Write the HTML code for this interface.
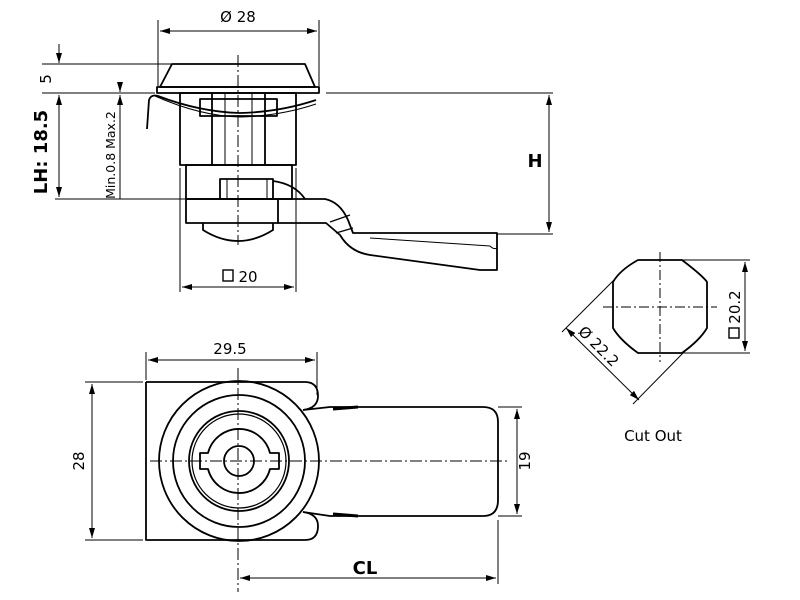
<!DOCTYPE html>
<html><head><meta charset="utf-8"><style>
html,body{margin:0;padding:0;background:#fff}
svg{display:block}
text{font-family:"DejaVu Sans","Liberation Sans",sans-serif;fill:#000}
</style></head><body>
<svg width="800" height="600" viewBox="0 0 800 600" xmlns="http://www.w3.org/2000/svg">
<defs>
<marker id="a" viewBox="0 0 10 6" refX="10" refY="3" markerWidth="10" markerHeight="6" orient="auto-start-reverse" markerUnits="userSpaceOnUse"><path d="M0,0L10,3L0,6z" fill="#000"/></marker>
</defs>
<g fill="none" stroke="#000" stroke-width="1">
<line x1="158" y1="20" x2="158" y2="86"/><line x1="319" y1="20" x2="319" y2="86"/>
<line x1="160" y1="31" x2="317" y2="31" marker-start="url(#a)" marker-end="url(#a)"/>
<line x1="42" y1="64" x2="172" y2="64"/>
<line x1="42" y1="93" x2="155" y2="93"/><line x1="326" y1="93" x2="553" y2="93"/>
<line x1="55" y1="199" x2="185" y2="199"/>
<line x1="497" y1="234" x2="553" y2="234"/>
<line x1="549" y1="95" x2="549" y2="232" marker-start="url(#a)" marker-end="url(#a)"/>
<line x1="59" y1="44" x2="59" y2="63" marker-end="url(#a)"/>
<line x1="59" y1="95" x2="59" y2="197" marker-start="url(#a)" marker-end="url(#a)"/>
<line x1="120" y1="82" x2="120" y2="92" marker-end="url(#a)"/>
<line x1="120" y1="95" x2="120" y2="199" marker-start="url(#a)"/>
<line x1="180" y1="168" x2="180" y2="292"/><line x1="296" y1="168" x2="296" y2="292"/>
<line x1="182" y1="287" x2="294" y2="287" marker-start="url(#a)" marker-end="url(#a)"/>
<line x1="238" y1="55" x2="238" y2="245" stroke-dasharray="12,3,2,3"/>
</g>
<g fill="none" stroke="#000" stroke-width="1.8" stroke-linejoin="round">
<path d="M172,64L305,64L315,87L160,87Z"/>
<rect x="157" y="87" width="162" height="6"/>
<rect x="180" y="93" width="116" height="72"/>
<line x1="212" y1="93" x2="212" y2="165"/><line x1="265" y1="93" x2="265" y2="165"/>
<line x1="225" y1="93" x2="225" y2="165" stroke-width="1"/><line x1="252" y1="93" x2="252" y2="165" stroke-width="1"/>
<rect x="200" y="99" width="77" height="17"/>
<path d="M147,129L149,100Q151,94 158,96Q200,112 240,113Q280,112 316,100"/>
<path d="M155,96Q200,116 240,117Q280,116 316,104" stroke-width="1"/>
<rect x="186" y="165" width="106" height="34"/>
<rect x="220" y="179" width="53" height="20"/>
<line x1="227" y1="179" x2="227" y2="199" stroke-width="1"/><line x1="267" y1="179" x2="267" y2="199" stroke-width="1"/>
<path d="M273,181Q295,184 305,199"/>
<rect x="186" y="199" width="92" height="24"/>
<path d="M278,199L325,199Q340,202 348,220L353,233L497,233L497,270L480,270L370,255Q350,252 340,235L326,223L278,223"/>
<line x1="330" y1="222" x2="350" y2="215" stroke-width="1.2"/><line x1="336" y1="233" x2="353" y2="228" stroke-width="1.2"/>
<path d="M370,238L490,246Q494,250 497,248" stroke-width="1"/>
<path d="M203,223L203,230Q238,252 273,230L273,223"/>
<path d="M146,382L305,382Q318,382 318,396Q318,408 303,410"/>
<path d="M146,382L146,540L305,540Q318,540 318,526Q318,514 303,512"/>
<path d="M303,410L330,407L483,407Q498,407 498,422L498,500Q498,516 483,516L330,516L303,512"/>
<path d="M333,409L358,407" stroke-width="3"/><path d="M333,514L358,516" stroke-width="3"/>
<circle cx="239" cy="461" r="80"/>
<circle cx="239" cy="461" r="66"/>
<circle cx="239" cy="461" r="50"/>
<circle cx="239" cy="461" r="47" stroke-width="1.2"/>
<path d="M200,453L208,453A32,32 0 0 1 270,453L279,453L279,469L270,469A32,32 0 0 1 208,469L200,469Z"/>
<circle cx="239" cy="461" r="15"/>
<path d="M638,260L682,260Q703,276 707,282L707,328Q700,340 682,353L638,353Q620,340 613,328L613,282Q620,270 638,260Z"/>
</g>
<g fill="none" stroke="#000" stroke-width="1">
<line x1="238" y1="368" x2="238" y2="592" stroke-dasharray="12,3,2,3"/>
<line x1="150" y1="461" x2="510" y2="461" stroke-dasharray="12,3,2,3"/>
<line x1="146" y1="352" x2="146" y2="380"/><line x1="317" y1="352" x2="317" y2="395"/>
<line x1="148" y1="360" x2="315" y2="360" marker-start="url(#a)" marker-end="url(#a)"/>
<line x1="85" y1="382" x2="143" y2="382"/><line x1="85" y1="540" x2="143" y2="540"/>
<line x1="92" y1="384" x2="92" y2="538" marker-start="url(#a)" marker-end="url(#a)"/>
<line x1="498" y1="407" x2="522" y2="407"/><line x1="498" y1="516" x2="522" y2="516"/>
<line x1="517" y1="409" x2="517" y2="514" marker-start="url(#a)" marker-end="url(#a)"/>
<line x1="498" y1="520" x2="498" y2="584"/>
<line x1="240" y1="578" x2="496" y2="578" marker-start="url(#a)" marker-end="url(#a)"/>
<line x1="660" y1="252" x2="660" y2="362" stroke-dasharray="10,3,2,3"/>
<line x1="603" y1="307" x2="717" y2="307" stroke-dasharray="10,3,2,3"/>
<line x1="682" y1="260" x2="750" y2="260"/><line x1="682" y1="353" x2="750" y2="353"/>
<line x1="745" y1="262" x2="745" y2="351" marker-start="url(#a)" marker-end="url(#a)"/>
<line x1="614" y1="280" x2="562" y2="332"/><line x1="686" y1="350" x2="633" y2="404"/>
<line x1="566" y1="328" x2="639" y2="400" marker-start="url(#a)" marker-end="url(#a)"/>
</g>
<g font-size="15">
<text x="238" y="22" text-anchor="middle">Ø 28</text>
<text x="248" y="282" text-anchor="middle">20</text>
<text x="230" y="354" text-anchor="middle">29.5</text>
<text x="653" y="441" text-anchor="middle">Cut Out</text>
<text transform="translate(84,461) rotate(-90)" text-anchor="middle">28</text>
<text transform="translate(530,461) rotate(-90)" text-anchor="middle">19</text>
<text transform="translate(51,79) rotate(-90)" text-anchor="middle">5</text>
<text transform="translate(740,307) rotate(-90)" text-anchor="middle">20.2</text>
<text transform="translate(595,350) rotate(45)" text-anchor="middle">Ø 22.2</text>
<text transform="translate(115,155) rotate(-90)" text-anchor="middle" font-size="12.5">Min.0.8 Max.2</text>
<text transform="translate(47,152) rotate(-90)" text-anchor="middle" font-size="18" font-weight="bold">LH: 18.5</text>
<text x="535" y="167" text-anchor="middle" font-size="18" font-weight="bold">H</text>
<text x="365" y="574" text-anchor="middle" font-size="18" font-weight="bold">CL</text>
</g>
<rect x="223" y="270" width="10" height="11" fill="none" stroke="#000" stroke-width="1.4"/>
<rect x="729" y="328" width="10" height="10" fill="none" stroke="#000" stroke-width="1.4"/>
</svg>
</body></html>
